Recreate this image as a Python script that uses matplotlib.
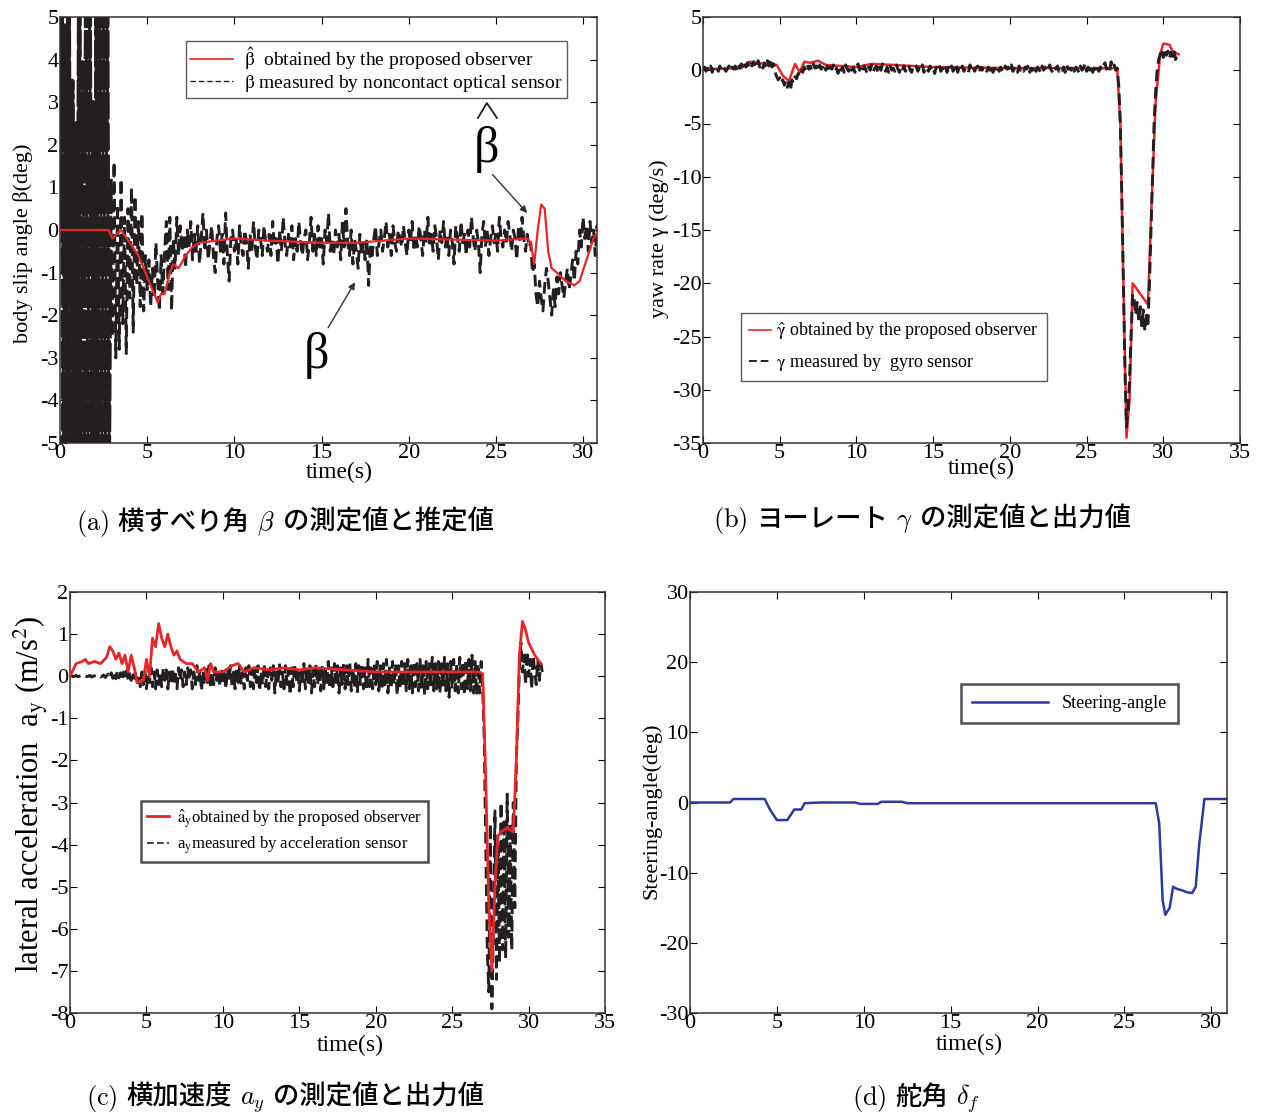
import numpy as np
import matplotlib
matplotlib.use("Agg")
import matplotlib.pyplot as plt
from matplotlib.font_manager import FontProperties

plt.rcParams['font.family'] = ['Liberation Serif', 'Noto Sans CJK JP', 'DejaVu Sans']
plt.rcParams['mathtext.fontset'] = 'stix'
plt.rcParams['axes.unicode_minus'] = False

RED = '#e8262a'
BLACK = '#231f20'
BLUE = '#2b3a9c'

# ---- data ----
# measured signals are sampled every 0.1 s from 0 to 30.9 s
t_meas = np.arange(310) * 0.1

beta_meas = [
    0, 5.5, -5.5, 4.8, -5.5, 5.5, -5.5, 3.5, -5.5, 2.5, -5.5, 5.5, -5.5, 4.0, -5.5, 5.5, -5.5, 5.5, -5.5, 3.0,
    -5.5, 5.5, -5.5, 5.5, -5.5, 5.5, -5.5, 5.5, -5.5, 1.2, -2.5, 1.6, -3.0, 0.6, -2.8, 1.2, -2.2, 0.3, -2.9, 0.5,
    -1.6, 1.0, -2.4, 0.8, -1.3, 0.2, -1.8, 0.4, -1.9, -0.6, -1.4, -0.7, -1.8, -0.9, -1.6, -0.3, -1.2, -1.9, -0.6, -1.5,
    -0.5, 0.2, -1.4, 0.3, -1.9, -0.2, -0.9, 0.3, -0.6, 0.1, -0.5, -0.1, -0.9, 0.0, -0.4, 0.2, -0.7, -0.1, -0.5, 0.1,
    -0.8, -0.2, 0.4, -0.5, 0.0, -0.7, -0.3, 0.1, -0.6, -1.0, -0.2, 0.1, -0.5, -0.1, -0.8, 0.4, -0.6, -1.2, -0.2, 0.0,
    -0.5, -0.2, -0.8, 0.1, -0.4, -0.6, 0.0, -0.3, -0.9, -0.1, -0.5, 0.2, -0.4, -0.7, 0.0, -0.2, -0.6, 0.1, -0.3, -0.5,
    -0.1, -0.6, 0.2, -0.4, -0.2, -0.8, 0.0, -0.5, 0.3, -0.3, -0.6, -0.1, -0.4, 0.1, -0.7, -0.2, -0.5, 0.2, -0.3, -0.6,
    -0.2, 0.0, -0.7, -0.3, 0.3, -0.5, -0.1, -0.6, 0.1, -0.4, -0.2, -0.8, 0.0, -0.3, 0.4, -0.5, -0.2, -0.6, 0.0, -0.4,
    -0.1, -0.7, 0.2, -0.4, 0.5, -0.3, -0.6, 0.0, -0.8, -0.2, -0.5, -0.9, -0.1, -0.6, -0.3, -0.7, -0.2, -1.3, -0.4, -0.6,
    -0.2, 0.1, -0.6, -0.3, 0.0, -0.5, -0.2, 0.2, -0.4, -0.1, -0.6, 0.1, -0.3, -0.5, 0.0, -0.2, -0.4, 0.1, -0.3, -0.6,
    0.0, -0.3, 0.2, -0.5, -0.1, -0.4, 0.1, -0.2, -0.6, 0.0, -0.3, 0.3, -0.4, -0.1, -0.5, 0.1, -0.2, -0.7, 0.0, -0.3,
    0.2, -0.4, -0.1, -0.6, 0.0, -0.3, -0.8, 0.1, -0.2, -0.5, 0.2, -0.3, -0.1, -0.6, 0.0, -0.4, 0.3, -0.2, -0.5, 0.0,
    -0.3, -1.0, -0.1, 0.2, -0.4, 0.0, -0.6, -0.2, 0.1, -0.3, -0.1, -0.5, 0.3, -0.2, -0.4, 0.0, -0.3, 0.2, -0.1, -0.5,
    0.0, -0.2, -0.7, 0.1, -0.3, 0.3, -0.2, -0.5, -0.1, -0.4, -0.3, -1.0, -0.8, -1.5, -1.8, -1.2, -1.6, -1.9, -1.3, -0.9,
    -1.2, -1.6, -2.0, -1.4, -1.8, -1.1, -1.5, -1.0, -1.3, -1.6, -1.2, -0.9, -1.4, -1.1, -0.7, -1.2, -0.5, -0.8, 0.0, -0.4,
    0.3, -0.2, 0.1, -0.5, 0.2, -0.3, 0.0, -0.6, 0.1, -0.3]

beta_est_t = [0, 2.8, 3.0, 3.5, 4.0, 4.5, 5.0, 5.3, 5.6, 5.8, 6.0, 6.3, 6.5, 6.8, 7.2, 7.6, 8.0, 10, 12, 15, 17,
              20, 25, 26.8, 27.0, 27.2, 27.4, 27.6, 27.8, 28.0, 28.2, 28.5, 29.0, 29.5, 29.8, 30.2, 30.6, 30.9]
beta_est = [0, 0, -0.2, 0.0, -0.3, -0.6, -1.1, -1.4, -1.7, -1.5, -1.5, -1.0, -0.8, -0.9, -0.6, -0.4, -0.3, -0.2, -0.25, -0.3, -0.3,
            -0.2, -0.25, -0.2, -0.3, -0.8, 0.0, 0.6, 0.5, -0.5, -0.9, -1.0, -1.2, -1.3, -1.2, -0.7, -0.2, 0.0]

gamma_meas = [
    0.1, 0.3, -0.1, 0.2, 0.0, 0.4, -0.2, 0.3, 0.1, 0.2, -0.1, 0.4, 0.0, 0.3, 0.1, -0.1, 0.2, 0.4, 0.0, 0.3,
    0.1, 0.4, 0.0, 0.5, 0.2, 0.6, 0.1, 0.5, 0.3, 0.7, 0.2, 0.6, 0.4, 0.8, 0.2, 0.5, 0.9, 0.3, 0.6, 0.2,
    0.7, 0.3, 0.9, 0.4, 1.1, 0.3, 0.6, -0.2, -0.6, -0.9, -0.7, -1.2, -0.9, -1.4, -1.0, -1.6, -1.1, -1.9, -0.9, -1.2,
    -0.6, -0.8, -0.3, -0.5, 0.0, -0.2, 0.3, 0.0, 0.5, 0.1, 0.4, 0.0, 0.6, 0.2, 0.4, -0.1, 0.5, 0.1, 0.3, 0.6,
    0.0, 0.4, -0.2, 0.3, 0.1, 0.5, -0.1, 0.2, -0.3, 0.4, 0.0, 0.3, -0.2, 0.5, 0.1, -0.1, 0.4, 0.0, 0.3, -0.2,
    0.2, 0.6, 0.0, 0.3, -0.1, 0.4, 0.1, -0.3, 0.3, 0.0, 0.5, -0.1, 0.2, 0.4, -0.2, 0.3, 0.0, 0.6, 0.1, -0.1,
    0.3, -0.2, 0.4, 0.0, 0.2, -0.1, 0.5, 0.1, -0.2, 0.3, 0.0, 0.4, -0.1, 0.2, 0.5, 0.0, -0.2, 0.3, 0.1, 0.4,
    -0.1, 0.2, 0.0, 0.5, -0.2, 0.3, 0.1, -0.1, 0.4, 0.0, 0.2, -0.3, 0.3, 0.1, 0.5, -0.1, 0.2, 0.0, 0.4, -0.2,
    0.3, 0.0, 0.4, -0.1, 0.2, 0.6, -0.2, 0.3, 0.0, 0.4, -0.1, 0.2, 0.1, -0.2, 0.5, 0.0, 0.3, -0.1, 0.2, 0.4,
    -0.2, 0.3, 0.0, 0.4, 0.1, -0.1, 0.3, 0.0, 0.5, -0.2, 0.2, 0.1, 0.4, -0.1, 0.3, 0.0, -0.2, 0.4, 0.1, 0.3,
    0.0, 0.5, -0.1, 0.2, 0.3, -0.2, 0.4, 0.0, 0.2, -0.1, 0.3, 0.1, 0.5, -0.2, 0.2, 0.0, 0.4, -0.1, 0.3, 0.1,
    -0.2, 0.4, 0.0, 0.3, -0.1, 0.2, 0.5, 0.0, -0.2, 0.3, 0.1, 0.4, -0.1, 0.2, 0.0, 0.3, -0.2, 0.5, 0.1, 0.2,
    0.0, 0.4, -0.1, 0.3, 0.1, -0.2, 0.4, 0.0, 0.2, 0.6, -0.1, 0.3, 0.0, 0.4, -0.2, 0.2, 0.1, 0.5, -0.1, 0.3,
    0.0, 0.4, 0.7, 0.1, 0.3, -0.1, 0.8, 0.2, 0.5, 0.0, 0.2, -1.5, -5.0, -12.0, -20.0, -28.0, -33.5, -32.0, -29.0, -25.0,
    -21.0, -21.5, -23.0, -21.8, -23.5, -22.2, -24.0, -22.5, -24.5, -23.0, -23.8, -20.0, -15.0, -10.0, -5.0, -2.0, 0.0, 1.0, 1.5, 2.0,
    1.2, 2.0, 1.4, 1.8, 1.1, 1.7, 1.3, 1.9, 1.0, 1.4]

gamma_est_t = [0, 2.5, 3.0, 4.0, 4.8, 5.2, 5.6, 6.0, 6.3, 6.6, 7.0, 7.5, 8.0, 10, 11, 15, 20, 27.0,
               27.2, 27.4, 27.6, 27.8, 28.0, 28.5, 29.0, 29.2, 29.5, 29.8, 30.0, 30.4, 30.6, 31.0]
gamma_est = [0.1, 0.2, 0.8, 0.6, 0.5, -0.5, -1.0, 0.6, -0.2, 0.8, 0.7, 0.9, 0.5, 0.3, 0.6, 0.3, 0.2, 0.2,
             -5, -20, -34.5, -31, -20, -21, -22, -14, -3, 1.5, 2.5, 2.4, 1.8, 1.5]

ay_meas = [
    0.0, 0.01, -0.01, 0.0, 0.02, -0.01, 0.0, 0.01, -0.02, 0.0, 0.01, -0.01, 0.0, 0.02, -0.02, 0.0, 0.01, -0.01, 0.0, 0.02,
    -0.02, 0.0, 0.03, -0.03, 0.01, 0.05, -0.04, 0.08, -0.05, 0.1, -0.06, 0.12, -0.04, 0.08, -0.1, 0.1, -0.05, 0.13, -0.08, 0.06,
    -0.1, 0.1, -0.05, 0.12, -0.15, 0.05, -0.25, 0.1, -0.2, 0.15, -0.3, 0.05, -0.15, 0.2, -0.25, 0.1, -0.3, 0.15, -0.2, 0.1,
    -0.25, 0.2, -0.1, 0.15, -0.3, 0.1, -0.2, 0.2, -0.15, 0.05, -0.3, 0.2, -0.1, 0.15, -0.25, 0.1, -0.2, 0.2, -0.1, 0.15,
    -0.3, 0.1, -0.2, 0.25, -0.1, 0.15, -0.35, 0.1, -0.2, 0.2, -0.15, 0.25, -0.3, 0.1, -0.2, 0.2, -0.1, 0.15, -0.25, 0.2,
    -0.2, 0.15, -0.3, 0.2, -0.1, 0.25, -0.25, 0.1, -0.3, 0.2, -0.15, 0.25, -0.2, 0.1, -0.3, 0.2, -0.1, 0.25, -0.25, 0.15,
    -0.3, 0.2, -0.15, 0.25, -0.35, 0.1, -0.2, 0.3, -0.25, 0.15, -0.3, 0.2, -0.1, 0.25, -0.4, 0.15, -0.2, 0.3, -0.25, 0.1,
    -0.3, 0.25, -0.2, 0.15, -0.45, 0.2, -0.25, 0.3, -0.15, 0.2, -0.35, 0.1, -0.2, 0.3, -0.3, 0.2, -0.15, 0.25, -0.4, 0.15,
    -0.25, 0.3, -0.2, 0.2, -0.35, 0.25, -0.3, 0.15, -0.2, 0.35, -0.3, 0.2, -0.25, 0.3, -0.15, 0.25, -0.4, 0.2, -0.2, 0.3,
    -0.3, 0.25, -0.2, 0.35, -0.35, 0.2, -0.25, 0.3, -0.4, 0.25, -0.2, 0.3, -0.3, 0.2, -0.35, 0.4, -0.25, 0.2, -0.3, 0.3,
    -0.2, 0.35, -0.35, 0.25, -0.3, 0.3, -0.25, 0.4, -0.4, 0.2, -0.3, 0.35, -0.2, 0.3, -0.45, 0.25, -0.3, 0.35, -0.25, 0.3,
    -0.35, 0.4, -0.3, 0.25, -0.4, 0.35, -0.25, 0.3, -0.35, 0.4, -0.3, 0.25, -0.45, 0.35, -0.3, 0.3, -0.25, 0.45, -0.35, 0.3,
    -0.3, 0.35, -0.4, 0.3, -0.25, 0.45, -0.35, 0.3, -0.5, 0.35, -0.3, 0.4, -0.35, 0.3, -0.4, 0.45, -0.3, 0.35, -0.45, 0.4,
    -0.3, 0.4, -0.35, 0.5, -0.4, 0.35, -0.45, 0.3, -0.4, 0.35, -0.3, -1.5, -4.0, -6.5, -7.5, -3.5, -7.9, -6.0, -3.2, -7.2,
    -4.0, -6.8, -3.0, -6.5, -3.4, -6.7, -2.8, -6.2, -3.5, -6.5, -3.0, -5.5, -2.0, -1.0, 0.2, 0.8, 0.1, 0.5, -0.2, 0.6,
    0.0, 0.4, -0.3, 0.5, 0.1, -0.2, 0.4, -0.1, 0.3, 0.1]

ay_est_t = [0, 0.4, 0.8, 1.0, 1.2, 1.6, 2.0, 2.4, 2.6, 2.8, 3.0, 3.2, 3.4, 3.6, 3.8, 4.0, 4.2, 4.4, 4.8, 5.0, 5.2, 5.4,
            5.6, 5.8, 6.0, 6.2, 6.4, 6.6, 6.8, 7.0, 7.2, 7.6, 8.0, 8.4, 8.8, 9.0, 9.2, 9.4, 10, 10.6, 11.0, 11.4,
            12, 13, 14, 15, 16, 20, 25, 26.8, 27.0, 27.2, 27.4, 27.6, 27.8, 28.0, 28.2, 28.6, 29.0, 29.2, 29.4,
            29.6, 29.8, 30.0, 30.4, 30.8]
ay_est = [0, 0.3, 0.35, 0.4, 0.3, 0.35, 0.3, 0.45, 0.7, 0.6, 0.4, 0.55, 0.3, 0.5, 0.1, 0.5, 0.2, -0.15, -0.1, 0.4, 0.0, 0.9,
          0.7, 1.25, 0.9, 0.7, 1.0, 0.7, 0.5, 0.6, 0.4, 0.3, 0.3, 0.1, 0.2, -0.1, 0.3, 0.1, 0.1, 0.25, 0.3, 0.1,
          0.2, 0.15, 0.2, 0.15, 0.2, 0.1, 0.1, 0.1, 0.05, -2.5, -5.5, -7.0, -5.0, -3.8, -3.7, -3.6, -3.7, -2.0, 0.5,
          1.3, 1.1, 0.8, 0.5, 0.3]

steer_t = [0, 2.3, 2.5, 4.3, 4.6, 5.0, 5.6, 6.0, 6.4, 6.6, 7.5, 9.5, 9.8, 10.8, 11.0, 12.2, 12.5, 26.8,
           27.0, 27.2, 27.35, 27.6, 27.8, 28.0, 28.3, 28.6, 28.9, 29.1, 29.3, 29.6, 31.0]
steer = [0, 0, 0.5, 0.5, -1, -2.5, -2.5, -1, -1, -0.1, 0, 0, -0.2, -0.2, 0.1, 0.1, -0.1, -0.1,
         -3, -14, -16, -15, -12, -12.3, -12.5, -12.8, -12.9, -12, -6, 0.5, 0.5]

fig = plt.figure(figsize=(12.67, 11.15), dpi=100)
W, H = 1267, 1115


def make_ax(l, t, r, b):
    ax = fig.add_axes([l / W, 1 - b / H, (r - l) / W, (b - t) / H])
    ax.tick_params(direction='in', top=True, right=True, length=5, labelsize=16, pad=1)
    for s in ax.spines.values():
        s.set_linewidth(1.1)
        s.set_color('#333333')
    return ax


def legend_font(size):
    return FontProperties(family='Liberation Serif', size=size, math_fontfamily='stix')


def thin_handles(leg, widths):
    for line, w in zip(leg.get_lines(), widths):
        line.set_linewidth(w)


dash = (0, (4, 2))
MEAS_LW = 2.1

# (a) body slip angle
ax1 = make_ax(60, 17, 597, 443)
ax1.plot(t_meas, beta_meas, color=BLACK, lw=MEAS_LW, ls=dash,
         label=r'$\mathrm{β}$ measured by noncontact optical sensor', zorder=2)
# start-up oscillation is so dense in the original that it reads as a solid block
ax1.plot(t_meas[:30], beta_meas[:30], color=BLACK, lw=3.2, ls=(0, (6, 1)), zorder=2)
ax1.plot(beta_est_t, beta_est, color=RED, lw=1.6,
         label=r'$\hat{\mathrm{β}}$  obtained by the proposed observer', zorder=3)
ax1.set_xlim(0, 30.8)
ax1.set_ylim(-5, 5)
ax1.set_xticks(range(0, 31, 5))
ax1.set_yticks(range(-5, 6))
ax1.set_xlabel('time(s)', fontsize=17)
ax1.xaxis.set_label_coords(0.52, -0.045)
ax1.set_ylabel('body slip angle β(deg)', fontsize=16)
ax1.yaxis.set_label_coords(-0.05, 0.47)
h, l = ax1.get_legend_handles_labels()
leg = ax1.legend(h[::-1], l[::-1], loc='upper left', bbox_to_anchor=(186 / W, 1 - 41 / H),
                 bbox_transform=fig.transFigure, fancybox=False, edgecolor='#333333',
                 prop=legend_font(14), handlelength=2.2, borderpad=0.2, labelspacing=0.05,
                 handletextpad=0.6, borderaxespad=0)
leg.get_frame().set_linewidth(1.0)
thin_handles(leg, [1.2, 1.0])
# large "beta hat" and "beta" pointers
ax1.text(24.45, 1.9, 'β', fontsize=36, ha='center', va='center')
ax1.plot([23.97, 24.48, 25.06], [2.63, 2.98, 2.63], color=BLACK, lw=1.3, clip_on=False)
ax1.annotate('', xy=(26.9, 0.35), xytext=(24.7, 1.35),
             arrowprops=dict(arrowstyle='-|>', color='#333333', lw=1, mutation_scale=10))
ax1.text(14.7, -2.95, 'β', fontsize=36, ha='center', va='center')
ax1.annotate('', xy=(17.0, -1.17), xytext=(15.3, -2.35),
             arrowprops=dict(arrowstyle='-|>', color='#333333', lw=1, mutation_scale=10))

# (b) yaw rate
ax2 = make_ax(703, 17, 1240, 443)
ax2.plot(t_meas, gamma_meas, color=BLACK, lw=MEAS_LW, ls=dash, label=r'$\mathrm{γ}$ measured by  gyro sensor',
         zorder=2)
ax2.plot(gamma_est_t, gamma_est, color=RED, lw=1.8, label=r'$\hat{\mathrm{γ}}$ obtained by the proposed observer',
         zorder=1)
ax2.set_xlim(0, 35)
ax2.set_ylim(-35, 5)
ax2.set_xticks(range(0, 36, 5))
ax2.set_yticks(range(-35, 6, 5))
ax2.set_xlabel('time(s)', fontsize=17)
ax2.xaxis.set_label_coords(0.518, -0.036)
ax2.set_ylabel('yaw rate γ (deg/s)', fontsize=16)
ax2.yaxis.set_label_coords(-0.064, 0.48)
h, l = ax2.get_legend_handles_labels()
leg = ax2.legend(h[::-1], l[::-1], loc='upper left', bbox_to_anchor=(741 / W, 1 - 313 / H),
                 bbox_transform=fig.transFigure, fancybox=False, edgecolor='#333333',
                 prop=legend_font(13), handlelength=1.2, borderpad=0.45, labelspacing=0.55,
                 handletextpad=0.3, borderaxespad=0)
leg.get_frame().set_linewidth(1.0)
thin_handles(leg, [1.2, 1.4])

# (c) lateral acceleration
ax3 = make_ax(70, 592, 605, 1013)
ax3.plot(t_meas, ay_meas, color=BLACK, lw=MEAS_LW, ls=dash,
         label=r'a$_\mathrm{y}$measured by acceleration sensor', zorder=2)
ax3.plot(ay_est_t, ay_est, color=RED, lw=2.0,
         label=r'$\hat{\mathrm{a}}_\mathrm{y}$obtained by the proposed observer', zorder=3)
ax3.set_xlim(0, 35)
ax3.set_ylim(-8, 2)
ax3.set_xticks(range(0, 36, 5))
ax3.set_yticks(range(-8, 3))
ax3.set_xlabel('time(s)', fontsize=17)
ax3.xaxis.set_label_coords(0.523, -0.053)
ax3.set_ylabel(r'lateral acceleration  a$_\mathrm{y}$ (m/s$^\mathrm{2}$)', fontsize=22,
               math_fontfamily='stix')
ax3.yaxis.set_label_coords(-0.038, 0.52)
h, l = ax3.get_legend_handles_labels()
leg = ax3.legend(h[::-1], l[::-1], loc='upper left', bbox_to_anchor=(141 / W, 1 - 801 / H),
                 bbox_transform=fig.transFigure, fancybox=False, edgecolor='#222222',
                 prop=legend_font(12), handlelength=1.3, borderpad=0.35, labelspacing=0.3,
                 handletextpad=0.5, borderaxespad=0)
leg.get_frame().set_linewidth(1.8)
thin_handles(leg, [2.0, 1.2])

# (d) steering angle
ax4 = make_ax(690, 592, 1227, 1013)
ax4.plot(steer_t, steer, color=BLUE, lw=1.8, label='Steering-angle')
ax4.set_xlim(0, 30.9)
ax4.set_ylim(-30, 30)
ax4.set_xticks(range(0, 31, 5))
ax4.set_yticks(range(-30, 31, 10))
ax4.set_xlabel('time(s)', fontsize=17)
ax4.xaxis.set_label_coords(0.521, -0.05)
ax4.set_ylabel('Steering-angle(deg)', fontsize=16)
ax4.yaxis.set_label_coords(-0.054, 0.48)
leg = ax4.legend(loc='upper left', bbox_to_anchor=(961 / W, 1 - 684 / H),
                 bbox_transform=fig.transFigure, fancybox=False, edgecolor='#222222',
                 prop=legend_font(13), handlelength=4.2, borderpad=0.6, handletextpad=0.8,
                 borderaxespad=0)
leg.get_frame().set_linewidth(1.8)


# captions: pieces in different fonts laid out one after another
def caption(xc, y_base, pieces):
    renderer = fig.canvas.get_renderer()
    texts, widths = [], []
    for s, kw in pieces:
        t = fig.text(0, 1 - y_base / H, s, va='baseline', ha='left', fontsize=19, **kw)
        widths.append(t.get_window_extent(renderer).width)
        texts.append(t)
    gap = 8
    total = sum(widths) + gap * (len(widths) - 1)
    x = xc - total / 2
    for t, w in zip(texts, widths):
        t.set_x(x / W)
        x += w + gap


CM = dict(math_fontfamily='cm')
JP = dict(family='Noto Sans CJK JP', weight='medium')
caption(285, 530, [(r'$\mathrm{(a)}$', CM), ('横すべり角', JP), (r'$\beta$', CM), ('の測定値と推定値', JP)])
caption(922, 527, [(r'$\mathrm{(b)}$', CM), ('ヨーレート', JP), (r'$\gamma$', CM), ('の測定値と出力値', JP)])
caption(285, 1105, [(r'$\mathrm{(c)}$', CM), ('横加速度', JP), (r'$a_y$', CM), ('の測定値と出力値', JP)])
caption(916, 1105, [(r'$\mathrm{(d)}$', CM), ('舵角', JP), (r'$\delta_f$', CM)])

fig.savefig('out.png', dpi=100)
